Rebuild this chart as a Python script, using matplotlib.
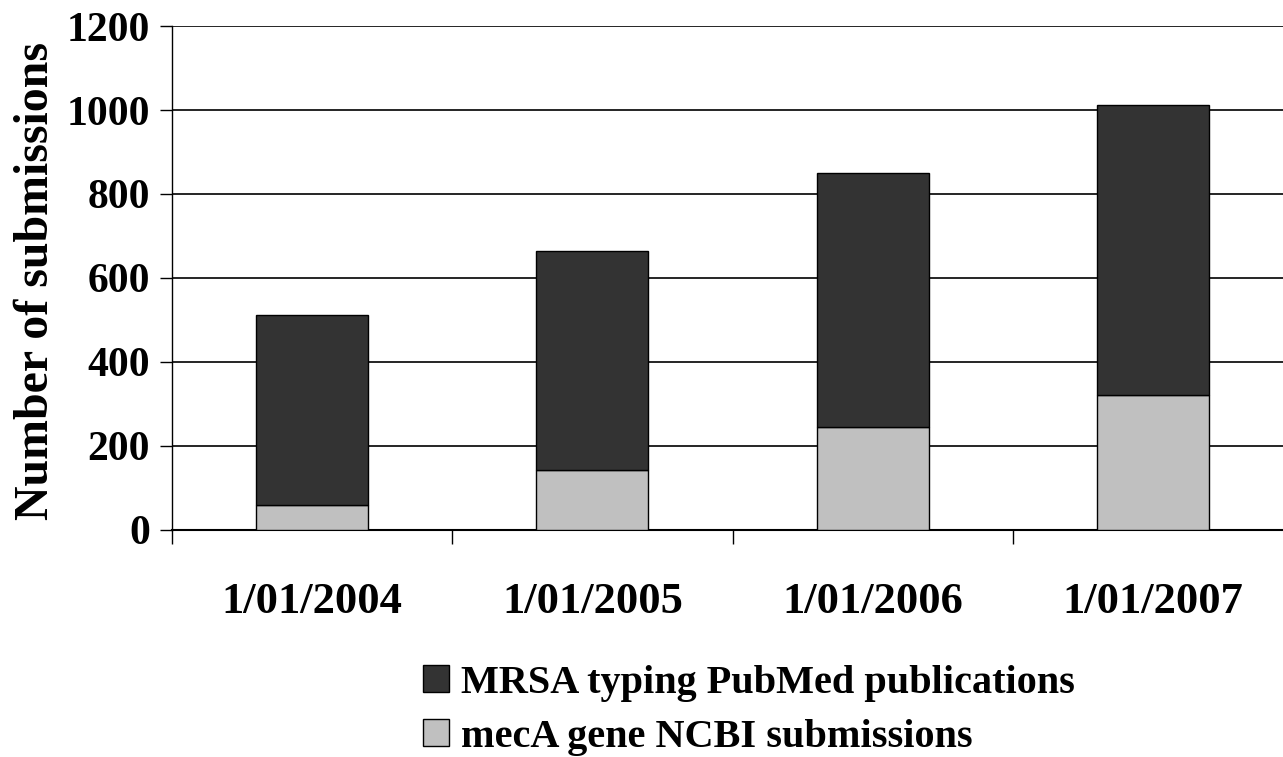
import matplotlib
matplotlib.use("Agg")
import numpy as np
from matplotlib import pyplot as plt

categories = ["1/01/2004", "1/01/2005", "1/01/2006", "1/01/2007"]
meca_ncbi = [58, 142, 244, 320]
mrsa_pubmed = [453, 522, 605, 691]
series_labels = ["MRSA typing PubMed publications", "mecA gene NCBI submissions"]
y_ticks = [0, 200, 400, 600, 800, 1000, 1200]

plt.rcParams['font.family'] = ['Liberation Serif', 'DejaVu Serif']
plt.rcParams['font.weight'] = 'bold'

fig = plt.figure(figsize=(12.83, 7.57), dpi=100)
ax = fig.add_axes([0.1341, 0.3005, 0.8737, 0.665])

x = np.arange(len(categories))
width = 0.4
light = ax.bar(x, meca_ncbi, width, color='#c0c0c0', edgecolor='black',
               linewidth=1, zorder=3)
dark = ax.bar(x, mrsa_pubmed, width, bottom=meca_ncbi, color='#333333',
              edgecolor='black', linewidth=1, zorder=3)

ax.set_xlim(-0.5, len(categories) - 0.5)
ax.set_ylim(0, 1200)
ax.set_yticks(y_ticks)
ax.set_yticklabels([str(v) for v in y_ticks], fontsize=30, fontweight='bold')
ax.yaxis.grid(True, color='black', linewidth=1.2)
ax.set_axisbelow(True)

# category boundaries carry the ticks, labels sit in between
ax.set_xticks(np.arange(-0.5, len(categories), 1.0))
ax.set_xticklabels([])
ax.set_xticks(x, minor=True)
ax.set_xticklabels(categories, minor=True, fontsize=32, fontweight='bold')
ax.tick_params(axis='x', which='major', direction='out', length=10, width=1)
ax.tick_params(axis='x', which='minor', length=0, pad=38)
ax.tick_params(axis='y', direction='out', length=9, width=1, pad=7)

for side in ['top', 'right']:
    ax.spines[side].set_visible(False)
ax.spines['left'].set_linewidth(1)
ax.spines['bottom'].set_linewidth(1.5)

ax.set_ylabel("Number of submissions", fontsize=34.5, fontweight='bold')
ax.yaxis.set_label_coords(-0.102, 0.494)

fig.legend([dark, light], series_labels, loc='upper left',
           bbox_to_anchor=(0.33, 0.122), frameon=False,
           prop={'weight': 'bold', 'size': 29},
           handlelength=0.64, handleheight=0.64, handletextpad=0.3,
           labelspacing=0.42, borderpad=0, borderaxespad=0)

fig.savefig("out.png", dpi=100)
